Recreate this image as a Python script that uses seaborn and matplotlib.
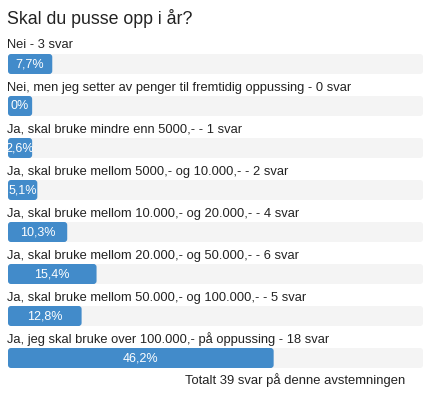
import numpy as np
import pandas as pd
import matplotlib
matplotlib.use("Agg")
import matplotlib.pyplot as plt
from matplotlib.patches import FancyBboxPatch
import seaborn as sns

title = "Skal du pusse opp i år?"
labels = [
    "Nei - 3 svar",
    "Nei, men jeg setter av penger til fremtidig oppussing - 0 svar",
    "Ja, skal bruke mindre enn 5000,- - 1 svar",
    "Ja, skal bruke mellom 5000,- og 10.000,- - 2 svar",
    "Ja, skal bruke mellom 10.000,- og 20.000,- - 4 svar",
    "Ja, skal bruke mellom 20.000,- og 50.000,- - 6 svar",
    "Ja, skal bruke mellom 50.000,- og 100.000,- - 5 svar",
    "Ja, jeg skal bruke over 100.000,- på oppussing - 18 svar",
]
percents = [7.7, 0.0, 2.6, 5.1, 10.3, 15.4, 12.8, 46.2]
pct_text = ["7,7%", "0%", "2,6%", "5,1%", "10,3%", "15,4%", "12,8%", "46,2%"]
footer = "Totalt 39 svar på denne avstemningen"

W, H, DPI = 423, 394, 100
sns.set_theme(style="white")
plt.rcParams["font.family"] = ["Liberation Sans", "DejaVu Sans"]

fig = plt.figure(figsize=(W / DPI, H / DPI), dpi=DPI)
left_px = 8
ax = fig.add_axes([left_px / W, 0, 1 - left_px / W, 1])

px_per_pct = 5.75
xmax = (W - left_px) / px_per_pct
pitch = 42.0
first_center = 64.0
ax.set_xlim(0, xmax)

df = pd.DataFrame({"label": labels, "pct": percents})
df["shown"] = np.maximum(df["pct"], 4.2)
df["track"] = xmax

bar_h = 20 / pitch
sns.barplot(data=df, y="label", x="track", orient="h", color="#f4f4f4",
            width=bar_h, saturation=1, ax=ax, linewidth=0)
sns.barplot(data=df, y="label", x="shown", orient="h", color="#428bca",
            width=bar_h, saturation=1, ax=ax, linewidth=0)

ax.set_ylim((H - first_center) / pitch, -first_center / pitch)

# round the bar corners slightly (3 px)
r_x = 3 / px_per_pct
aspect = (3 / pitch) / r_x
for p in list(ax.patches):
    x0, y0 = p.get_x(), p.get_y()
    w, h = p.get_width(), p.get_height()
    fb = FancyBboxPatch((x0, y0), w, h,
                        boxstyle=f"round,pad=0,rounding_size={r_x}",
                        mutation_aspect=aspect,
                        facecolor=p.get_facecolor(), edgecolor="none",
                        zorder=p.get_zorder())
    p.remove()
    ax.add_patch(fb)

for i, (lab, v, t) in enumerate(zip(labels, df["shown"], pct_text)):
    ax.text(-0.1, i - 18.5 / pitch, lab, ha="left", va="center",
            fontsize=9.3, color="#222222", zorder=5)
    ax.text(v / 2, i + 0.3 / pitch, t, ha="center", va="center",
            fontsize=9.0, color="white", zorder=5)

ax.set_axis_off()
fig.text(7 / W, 1 - 19 / H, title, ha="left", va="center", fontsize=12.8,
         color="#222222")
fig.text(405 / W, 1 - 380 / H, footer, ha="right", va="center", fontsize=9.35,
         color="#222222")

fig.savefig("out.png", dpi=DPI)
